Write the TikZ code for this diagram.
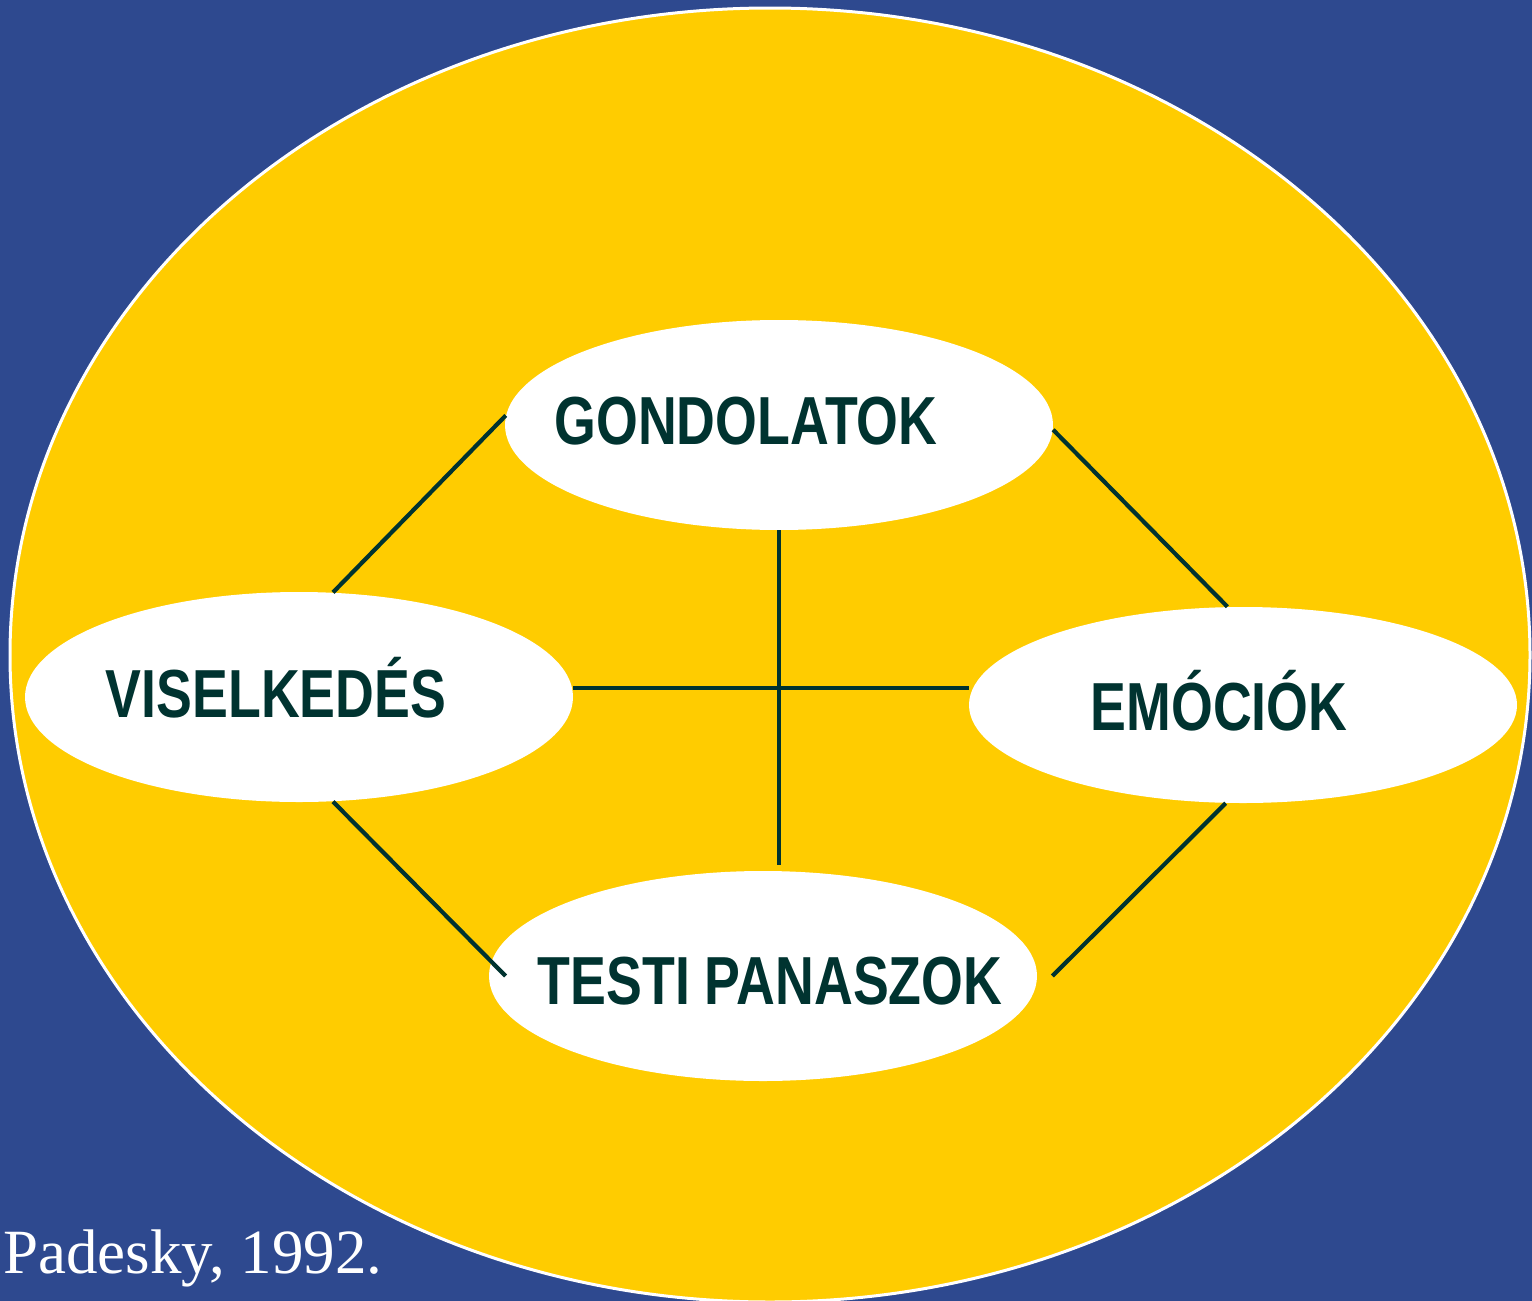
\documentclass[tikz,border=0pt]{standalone}
\usepackage{fontspec}
\usetikzlibrary{shapes.geometric}
\newfontfamily\lab{Liberation Sans}[FakeStretch=0.79]
\newfontfamily\citefont{Liberation Serif}
\definecolor{bgblue}{HTML}{2E498F}
\definecolor{gold}{HTML}{FFCC00}
\definecolor{ink}{RGB}{0,51,48}
\tikzset{
  oval/.style={ellipse, fill=white, draw=none, inner sep=0pt},
  lbl/.style={anchor=base, text=ink, font=\lab\bfseries\fontsize{34pt}{40pt}\selectfont, inner sep=0pt},
  link/.style={draw=ink, line width=2.1pt}
}
\begin{document}
\begin{tikzpicture}[x=0.5pt,y=-0.5pt]
\useasboundingbox (0,0) rectangle (1532,1301);
\fill[bgblue] (0,0) rectangle (1532,1301);
\begin{scope}
\clip (0,0) rectangle (1532,1301);
\draw[fill=gold, draw=white, line width=1.5pt] (770,655) ellipse [x radius=760, y radius=647];
\end{scope}
% ovals
\node[oval, minimum width=274pt, minimum height=105pt] (G) at (779,425) {};
\node[oval, minimum width=274pt, minimum height=105pt] (V) at (299,697) {};
\node[oval, minimum width=274pt, minimum height=98pt] (E) at (1243,705) {};
\node[oval, minimum width=274pt, minimum height=105pt] (T) at (763,976) {};
% labels
\node[lbl] (Gt) at (746,444) {GONDOLATOK};
\node[lbl] (Vt) at (276,717) {VISELKEDÉS};
\node[lbl] (Et) at (1219,730) {EMÓCIÓK};
\node[lbl] (Tt) at (770,1004) {TESTI PANASZOK};
% connectors
\draw[link] (G.178.5) -- (V.72.6);
\draw[link] (G.-1.7) -- (E.99.8);
\draw[link] (G.south) -- ([yshift=3pt]G.south |- T.north);
\draw[link] ([yshift=4.5pt]V.east) -- ([yshift=4.5pt]V.east -| E.west);
\draw[link] (V.-72.6) -- ([xshift=8.5pt]T.west);
\draw[link] (E.260.1) -- ([xshift=7.5pt]T.east);
% citation
\node[anchor=base west, text=white, font=\citefont\fontsize{31.5pt}{36pt}\selectfont, inner sep=0pt] (cit) at (3,1273) {Padesky, 1992.};
\end{tikzpicture}
\end{document}
